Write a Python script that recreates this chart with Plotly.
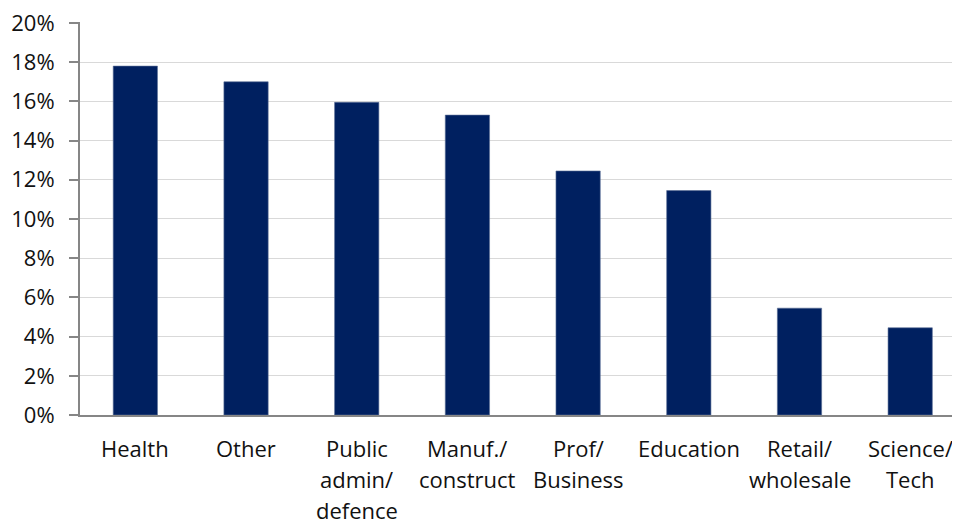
import plotly.graph_objects as go

categories = [["Health"], ["Other"], ["Public", "admin/", "defence"], ["Manuf./", "construct"],
              ["Prof/", "Business"], ["Education"], ["Retail/", "wholesale"], ["Science/", "Tech"]]
values = [17.8, 17.0, 15.95, 15.3, 12.45, 11.45, 5.45, 4.45]
y_ticks = [0, 2, 4, 6, 8, 10, 12, 14, 16, 18, 20]
y_tick_labels = [f"{v}%" for v in y_ticks]

FONT = "Open Sans, Noto Sans, sans-serif"
LINE_H = 31  # category label line spacing in px

x_pos = list(range(len(categories)))

fig = go.Figure(go.Bar(
    x=x_pos,
    y=values,
    width=0.4,
    marker=dict(color="#002060", line=dict(color="#5a6f96", width=0.6)),
))

annotations = []
for i, lines in enumerate(categories):
    for j, line in enumerate(lines):
        annotations.append(dict(
            x=i, xref="x", y=0, yref="paper",
            text=line, showarrow=False,
            xanchor="center", yanchor="top",
            yshift=-16 - j * LINE_H,
            font=dict(family=FONT, size=22, color="#111111"),
        ))

# page body has an 8px margin, so the figure is sized to end at the window edge
fig.update_layout(
    width=952, height=518,
    margin=dict(l=72, r=0, t=14, b=111),
    paper_bgcolor="white", plot_bgcolor="white",
    font=dict(family=FONT, size=22, color="#111111"),
    showlegend=False,
    annotations=annotations,
)
fig.update_xaxes(
    range=[-0.5, 7.45],
    tickmode="array", tickvals=x_pos, ticktext=["" for _ in x_pos],
    showline=True, linecolor="#868686", linewidth=2,
    ticks="", showgrid=False, zeroline=False,
    automargin=False,
)
fig.update_yaxes(
    range=[0, 20.05],
    tickmode="array", tickvals=y_ticks, ticktext=y_tick_labels,
    showline=True, linecolor="#868686", linewidth=2,
    ticks="outside", ticklen=9, tickcolor="#868686", tickwidth=2,
    showgrid=True, gridcolor="#d9d9d9", gridwidth=1.3,
    zeroline=False,
    ticklabelstandoff=10,
    ticklabeloverflow="allow",
    automargin=False,
)

fig.write_html("out.html")
